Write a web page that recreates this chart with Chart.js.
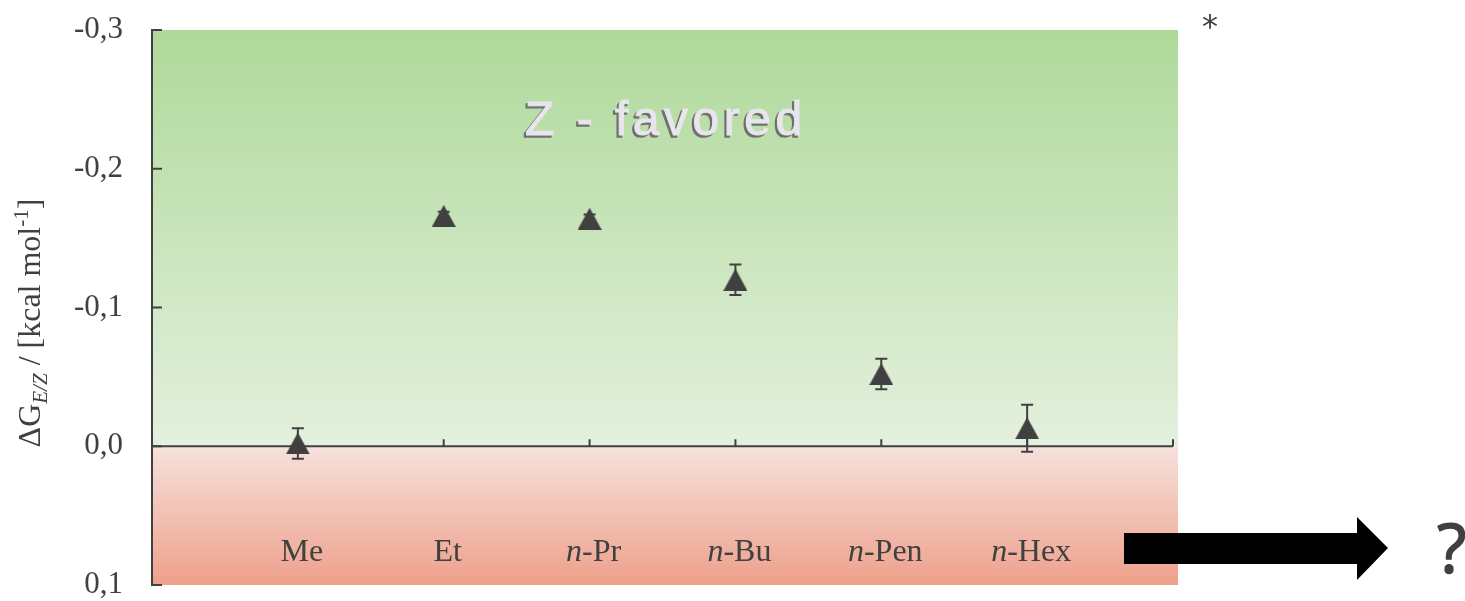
<!DOCTYPE html>
<html>
<head>
<meta charset="utf-8">
<script src="https://cdn.jsdelivr.net/npm/chart.js@4.4.1/dist/chart.umd.min.js"></script>
<style>
  html, body { margin: 0; padding: 0; background: #fff; }
  #wrap { width: 1465px; height: 601px; position: relative; }
</style>
</head>
<body>
<div id="wrap"><canvas id="chart"></canvas></div>
<script>
// ── data ─────────────────────────────────────────
const categories = ['Me', 'Et', 'n-Pr', 'n-Bu', 'n-Pen', 'n-Hex'];
const dG    = [-0.002, -0.166, -0.164, -0.120, -0.052, -0.013];  // ΔG E/Z, kcal/mol
const dGErr = [ 0.011,  0.003,  0.003,  0.011,  0.011,  0.017];

const SERIF = "'Times New Roman', 'Liberation Serif', serif";
const SANS  = "Arial, 'Liberation Sans', sans-serif";
const INK   = '#404040';

// triangle marker, centred on its bounding box
const tri = document.createElement('canvas');
tri.width = 24; tri.height = 22;
(() => {
    const c = tri.getContext('2d');
    c.fillStyle = INK;
    c.beginPath(); c.moveTo(12, 0); c.lineTo(24, 22); c.lineTo(0, 22); c.closePath(); c.fill();
})();

// ── background + axis at zero + error bars + labels ─
const decor = {
    id: 'decor',
    beforeDraw(chart) {
        const { ctx, chartArea: a, scales: { y } } = chart;
        const z = y.getPixelForValue(0);
        ctx.save();
        let g = ctx.createLinearGradient(0, a.top, 0, z);
        g.addColorStop(0, '#afd99a');
        g.addColorStop(1, '#e4f0de');
        ctx.fillStyle = g;
        ctx.fillRect(a.left, a.top, a.right - a.left + 5, z - a.top);
        g = ctx.createLinearGradient(0, z, 0, a.bottom);
        g.addColorStop(0, '#f6e1dc');
        g.addColorStop(1, '#eea08b');
        ctx.fillStyle = g;
        ctx.fillRect(a.left, z, a.right - a.left + 5, a.bottom - z);
        ctx.restore();
    },
    beforeDatasetsDraw(chart) {
        const { ctx, chartArea: a, scales: { x, y } } = chart;
        const z = y.getPixelForValue(0);
        ctx.save();
        ctx.strokeStyle = INK;
        ctx.lineWidth = 2;

        // inner ticks on the value axis
        ctx.beginPath();
        y.ticks.forEach(t => {
            const py = y.getPixelForValue(t.value);
            ctx.moveTo(a.left, py); ctx.lineTo(a.left + 10, py);
        });
        ctx.stroke();

        // category axis through zero
        ctx.beginPath();
        ctx.moveTo(a.left, z); ctx.lineTo(a.right, z);
        for (let i = 1; i <= 7; i++) {
            const px = x.getPixelForValue(i);
            ctx.moveTo(px, z); ctx.lineTo(px, z - 7);
        }
        ctx.stroke();

        // error bars
        ctx.beginPath();
        dG.forEach((v, i) => {
            const px = x.getPixelForValue(i + 1);
            const y1 = y.getPixelForValue(v - dGErr[i]);
            const y2 = y.getPixelForValue(v + dGErr[i]);
            ctx.moveTo(px, y1); ctx.lineTo(px, y2);
            ctx.moveTo(px - 6, y1); ctx.lineTo(px + 6, y1);
            ctx.moveTo(px - 6, y2); ctx.lineTo(px + 6, y2);
        });
        ctx.stroke();

        // category names inside the plot
        ctx.fillStyle = INK;
        ctx.textBaseline = 'alphabetic';
        ctx.textAlign = 'left';
        categories.forEach((name, i) => {
            const px = x.getPixelForValue(i + 1);
            let pre = '', rest = name;
            if (name.startsWith('n-')) { pre = 'n'; rest = name.slice(1); }
            ctx.font = `italic 32px ${SERIF}`;
            const wp = ctx.measureText(pre).width;
            ctx.font = `32px ${SERIF}`;
            const wr = ctx.measureText(rest).width;
            const sx = px + 4 - (wp + wr) / 2;
            ctx.font = `italic 32px ${SERIF}`;
            ctx.fillText(pre, sx, 561);
            ctx.font = `32px ${SERIF}`;
            ctx.fillText(rest, sx + wp, 561);
        });

        // "Z - favored" embossed label
        ctx.font = `48px ${SANS}`;
        ctx.letterSpacing = '4.5px';
        ctx.fillStyle = '#707070';
        ctx.strokeStyle = '#707070';
        ctx.lineWidth = 1.5;
        ctx.fillText('Z - favored', 523, 137);
        ctx.strokeText('Z - favored', 523, 137);
        ctx.fillStyle = '#e6e6ec';
        ctx.strokeStyle = '#e6e6ec';
        ctx.lineWidth = 1;
        ctx.fillText('Z - favored', 525, 135);
        ctx.strokeText('Z - favored', 525, 135);
        ctx.letterSpacing = '0px';
        ctx.restore();
    },
    afterDraw(chart) {
        const { ctx } = chart;
        ctx.save();

        // y title: ΔG_{E/Z} / [kcal mol^-1]
        ctx.translate(40, 323);
        ctx.rotate(-Math.PI / 2);
        ctx.fillStyle = INK;
        ctx.textBaseline = 'alphabetic';
        const parts = [
            { t: 'ΔG', f: `32px ${SERIF}`, dy: 0 },
            { t: 'E/Z', f: `italic 21px ${SERIF}`, dy: 7 },
            { t: ' / [kcal mol', f: `32px ${SERIF}`, dy: 0 },
            { t: '-1', f: `21px ${SERIF}`, dy: -12 },
            { t: ']', f: `32px ${SERIF}`, dy: 0 },
        ];
        let w = 0;
        parts.forEach(p => { ctx.font = p.f; p.w = ctx.measureText(p.t).width; w += p.w; });
        let cx = -w / 2;
        parts.forEach(p => { ctx.font = p.f; ctx.fillText(p.t, cx, p.dy); cx += p.w; });
        ctx.restore();

        // arrow pointing to "?"
        ctx.save();
        ctx.fillStyle = '#000';
        ctx.beginPath();
        ctx.moveTo(1124, 533); ctx.lineTo(1357, 533); ctx.lineTo(1357, 517);
        ctx.lineTo(1388, 548); ctx.lineTo(1357, 580); ctx.lineTo(1357, 564);
        ctx.lineTo(1124, 564); ctx.closePath(); ctx.fill();

        ctx.fillStyle = INK;
        ctx.strokeStyle = INK;
        ctx.lineWidth = 1.5;
        ctx.textAlign = 'left';
        ctx.textBaseline = 'alphabetic';
        ctx.font = "68px 'Open Sans', sans-serif";
        ctx.fillText('?', 1437, 573);
        ctx.strokeText('?', 1437, 573);
        ctx.textAlign = 'center';
        ctx.font = "32px 'DejaVu Sans', sans-serif";
        ctx.fillText('*', 1210, 37);
        ctx.restore();
    }
};

new Chart(document.getElementById('chart'), {
    type: 'scatter',
    data: {
        datasets: [{
            label: 'ΔG E/Z',
            data: dG.map((v, i) => ({ x: i + 1, y: v })),
            pointStyle: tri,
            pointRadius: 11,
            pointHoverRadius: 11,
            backgroundColor: INK,
            borderColor: INK,
        }]
    },
    options: {
        responsive: true,
        maintainAspectRatio: false,
        animation: false,
        layout: { padding: { left: 0, top: 30, right: 292, bottom: 16 } },
        plugins: {
            legend: { display: false },
            tooltip: { enabled: false },
        },
        scales: {
            x: { type: 'linear', min: 0, max: 7, display: false },
            y: {
                reverse: true,
                min: -0.3,
                max: 0.1,
                afterFit: s => { s.width = 152; s.paddingTop = 0; s.paddingBottom = 0; },
                grid: { display: false, drawTicks: false },
                border: { display: true, color: INK, width: 2 },
                ticks: {
                    stepSize: 0.1,
                    padding: 29,
                    color: INK,
                    font: { family: SERIF, size: 31, lineHeight: 0.1 },
                    callback: v => (Math.abs(v) < 1e-9 ? 0 : v).toFixed(1).replace('.', ','),
                }
            }
        }
    },
    plugins: [decor]
});
</script>
</body>
</html>
